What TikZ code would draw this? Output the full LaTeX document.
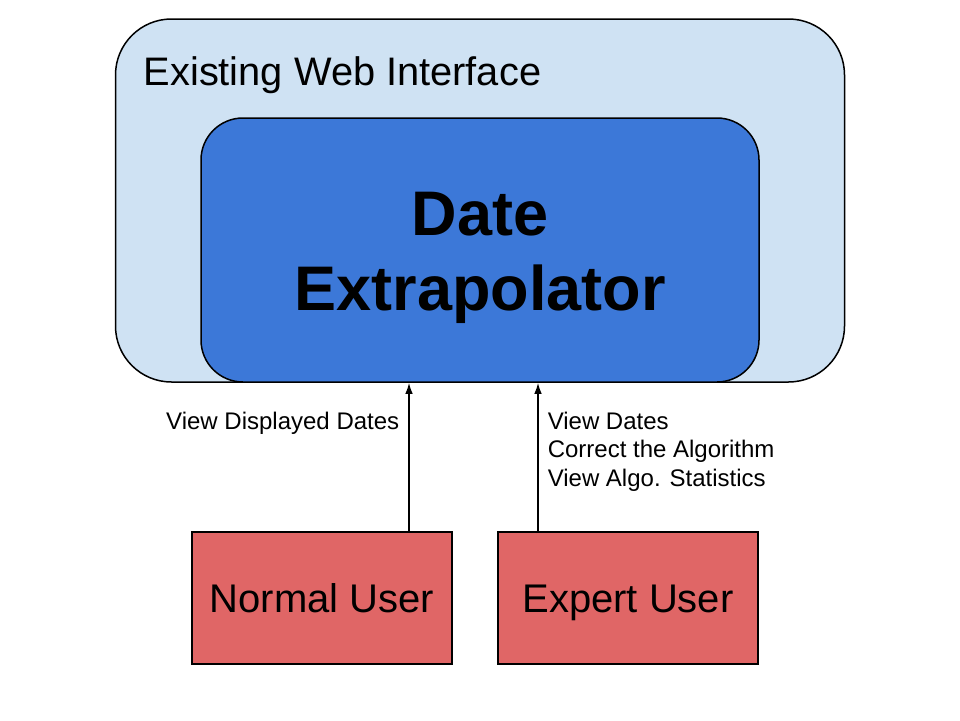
\documentclass[tikz,border=0pt]{standalone}
\usepackage{fontspec}
\setmainfont{Liberation Sans}
\usetikzlibrary{arrows.meta}
\definecolor{webblue}{HTML}{CFE2F3}
\definecolor{extblue}{HTML}{3C78D8}
\definecolor{userred}{HTML}{E06666}
\tikzstyle{userbox}=[draw, fill=userred, minimum width=260pt, minimum height=132pt, text height=28.6pt, text depth=0pt, font=\fontsize{40}{48}\selectfont]
\tikzstyle{lbl}=[inner sep=0pt, font=\fontsize{24}{28.5}\selectfont]
\tikzset{>={Latex[length=11pt,width=7.5pt]}}

\begin{document}
\begin{tikzpicture}[x=1pt,y=-1pt,line width=1.5pt]
  \useasboundingbox (0,0) rectangle (960,720);
  \node[draw,fill=webblue,rounded corners=56pt,minimum width=729pt,minimum height=363pt] (web) at (480,200.5) {};
  \node[anchor=base west,inner sep=0pt,font=\fontsize{39.8}{47}\selectfont] (webtxt) at (143,85) {Existing Web Interface};
  \node[draw,fill=extblue,rounded corners=42pt,minimum width=558pt,minimum height=264pt] (de) at (480,250) {};
  \node[anchor=base,align=center,inner sep=0pt,font=\fontsize{63}{75}\selectfont\bfseries] (detxt) at (480,310) {Date\\Extrapolator};
  \node[userbox] (nu) at (322,598) {Normal User};
  \node[userbox] (eu) at (628,598) {Expert User};
  % user access
  \draw[->] ([xshift=87pt]nu.north) -- ([xshift=87pt]nu.north |- de.south);
  \draw[->] ([xshift=-90pt]eu.north) -- ([xshift=-90pt]eu.north |- de.south);
  \node[lbl,anchor=base east] (nulbl) at (400,429) {View Displayed Dates};
  \node[lbl,anchor=base west,align=left] (eulbl) at (547,486) {View Dates\\Correct the Algorithm\\View Algo. Statistics};
\end{tikzpicture}
\end{document}
